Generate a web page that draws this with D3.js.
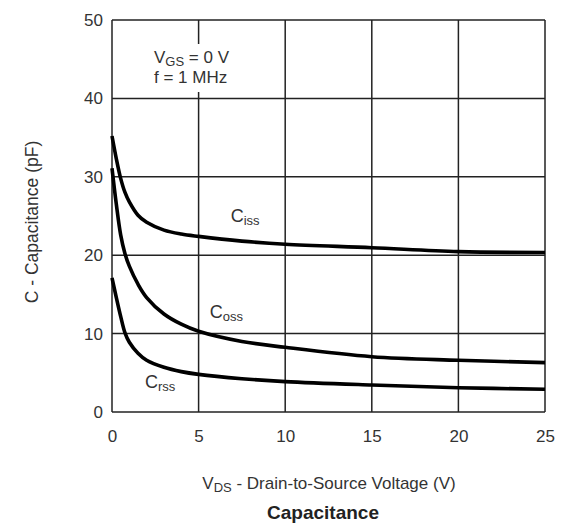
<!DOCTYPE html>
<html><head><meta charset="utf-8">
<script src="https://cdn.jsdelivr.net/npm/d3@7"></script>
<style>body{margin:0;background:#fff}text{font-family:"Liberation Sans",Arial,sans-serif}</style>
</head><body>
<svg id="c" width="562" height="528"></svg>
<script>
const voltage = [0, 0.25, 0.5, 0.75, 1, 1.5, 2, 3, 4, 5, 7.5, 10, 15, 20, 25];
const ciss = [35.2, 32.3, 29.8, 28.0, 26.8, 25.1, 24.2, 23.2, 22.7, 22.4, 21.8, 21.4, 20.95, 20.45, 20.35];
const coss = [31.1, 26.5, 22.6, 20.2, 18.6, 16.3, 14.6, 12.5, 11.2, 10.3, 9.0, 8.25, 7.05, 6.6, 6.3];
const crss = [17.1, 14.6, 12.2, 10.1, 8.9, 7.5, 6.6, 5.7, 5.15, 4.8, 4.25, 3.87, 3.44, 3.1, 2.9];
const xTicks = [0, 5, 10, 15, 20, 25];
const yTicks = [0, 10, 20, 30, 40, 50];
const seriesLabels = [
  {main: "C", sub: "iss", x: 6.85, y: 24.2},
  {main: "C", sub: "oss", x: 5.65, y: 12.0},
  {main: "C", sub: "rss", x: 1.9, y: 3.0}
];

const svg = d3.select("#c");
const L = 112, R = 545, T = 20, B = 412;
const x = d3.scaleLinear().domain([0, 25]).range([L, R]);
const y = d3.scaleLinear().domain([0, 50]).range([B, T]);
const ink = "#222";
const font = '"Liberation Sans",Arial,sans-serif';

// grid
const g = svg.append("g");
g.selectAll("line.v").data(xTicks).join("line")
  .attr("x1", d => x(d)).attr("x2", d => x(d)).attr("y1", T).attr("y2", B)
  .attr("stroke", ink).attr("stroke-width", 1.5);
g.selectAll("line.h").data(yTicks).join("line")
  .attr("y1", d => y(d)).attr("y2", d => y(d)).attr("x1", L).attr("x2", R)
  .attr("stroke", ink).attr("stroke-width", 1.5);

// axes labels via d3 axes (ticks hidden)
const xAxis = svg.append("g").attr("transform", `translate(0,${B})`)
  .call(d3.axisBottom(x).tickValues(xTicks).tickSize(0).tickPadding(18).tickFormat(d3.format("d")));
const yAxis = svg.append("g").attr("transform", `translate(${L},0)`)
  .call(d3.axisLeft(y).tickValues(yTicks).tickSize(0).tickPadding(9).tickFormat(d3.format("d")));
[xAxis, yAxis].forEach(a => {
  a.select(".domain").remove();
  a.selectAll("text").attr("font-size", 17).attr("fill", "#333").style("font-family", font);
});

// curves
const line = d3.line().x(d => x(d[0])).y(d => y(d[1])).curve(d3.curveCatmullRom.alpha(0.5));
[ciss, coss, crss].forEach(s => {
  svg.append("path").datum(voltage.map((v, i) => [v, s[i]]))
    .attr("d", line).attr("fill", "none").attr("stroke", "#000")
    .attr("stroke-width", 3.6).attr("stroke-linejoin", "round");
});

// series labels
seriesLabels.forEach(l => {
  const t = svg.append("text").attr("x", x(l.x)).attr("y", y(l.y))
    .attr("font-size", 18).attr("fill", "#333");
  t.append("tspan").text(l.main);
  t.append("tspan").attr("font-size", 13).attr("dy", 3).text(l.sub);
});

// condition annotation (with white backing that interrupts the grid)
svg.append("rect").attr("x", 150).attr("y", 44).attr("width", 86).attr("height", 48).attr("fill", "#fff");
const a1 = svg.append("text").attr("x", 154).attr("y", 63).attr("font-size", 17).attr("fill", "#333");
a1.append("tspan").text("V");
a1.append("tspan").attr("font-size", 13).attr("dy", 3).text("GS");
a1.append("tspan").attr("dy", -3).text(" = 0 V");
svg.append("text").attr("x", 154).attr("y", 83).attr("font-size", 17).attr("fill", "#333").text("f = 1 MHz");

// axis titles
const xt = svg.append("text").attr("x", 329).attr("y", 489).attr("text-anchor", "middle")
  .attr("font-size", 17).attr("fill", "#333");
xt.append("tspan").text("V");
xt.append("tspan").attr("font-size", 13).attr("dy", 3).text("DS");
xt.append("tspan").attr("dy", -3).text(" - Drain-to-Source Voltage (V)");

svg.append("text").attr("transform", "translate(38,222) rotate(-90)").attr("text-anchor", "middle")
  .attr("font-size", 17.5).attr("fill", "#333").text("C - Capacitance (pF)");

svg.append("text").attr("x", 323).attr("y", 519).attr("text-anchor", "middle")
  .attr("font-size", 19).attr("font-weight", "bold").attr("fill", "#222").text("Capacitance");
</script>
</body></html>
